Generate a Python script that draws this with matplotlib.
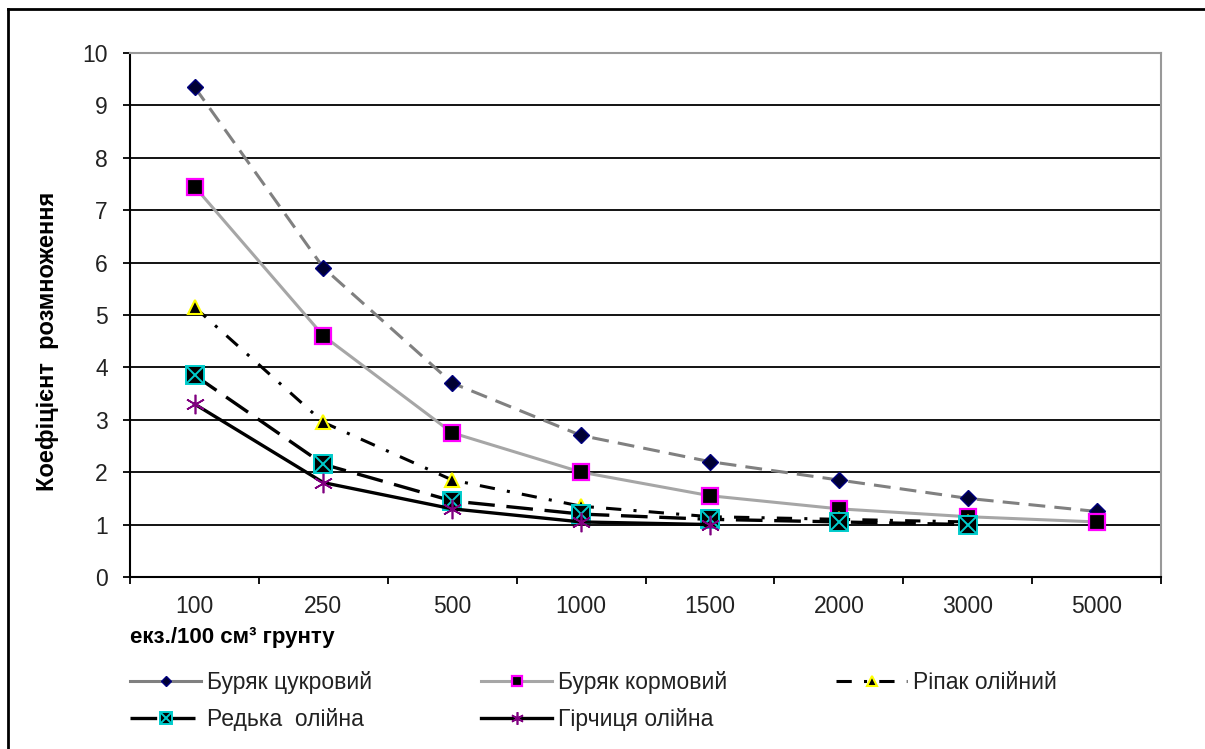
import matplotlib.pyplot as plt
from matplotlib.legend_handler import HandlerTuple
from matplotlib.lines import Line2D

plt.rcParams["font.family"] = ["Liberation Sans", "DejaVu Sans"]

categories = ["100", "250", "500", "1000", "1500", "2000", "3000", "5000"]

sugar_beet = [9.35, 5.9, 3.7, 2.7, 2.2, 1.85, 1.5, 1.25]
fodder_beet = [7.45, 4.6, 2.75, 2.0, 1.55, 1.3, 1.15, 1.05]
rapeseed = [5.15, 2.95, 1.85, 1.35, 1.15, 1.1, 1.05]
oil_radish = [3.85, 2.15, 1.45, 1.2, 1.1, 1.05, 1.0]
mustard = [3.3, 1.8, 1.3, 1.05, 1.0]

series_names = [
    "Буряк цукровий",
    "Буряк кормовий",
    "Ріпак олійний",
    "Редька  олійна",
    "Гірчиця олійна",
]

FS = 16.5
TXT = "#222222"

fig = plt.figure(figsize=(12.05, 7.49), dpi=100)
ax = fig.add_axes([0.108, 0.2297, 0.8555, 0.6996])

x = list(range(len(categories)))

h1, = ax.plot(x[:len(sugar_beet)], sugar_beet, color="#808080", lw=2.2,
              dashes=(5.5, 3), marker="D", ms=8, mfc="#000033", mec="#000080",
              mew=1, zorder=3)
h2, = ax.plot(x[:len(fodder_beet)], fodder_beet, color="#a6a6a6", lw=2.2,
              marker="s", ms=11, mfc="black", mec="#ff00ff", mew=1.6, zorder=4)
h3, = ax.plot(x[:len(rapeseed)], rapeseed, color="black", lw=2.2,
              dashes=(5, 4, 1, 4), marker="^", ms=10, mfc="black",
              mec="#ffff00", mew=1.5, zorder=5)
h4, = ax.plot(x[:len(oil_radish)], oil_radish, color="black", lw=2.4,
              dashes=(8, 3.5), marker="s", ms=13, mfc="black", mec="#00cccc",
              mew=1.4, zorder=6)
h4x, = ax.plot(x[:len(oil_radish)], oil_radish, ls="none", marker="x",
               ms=11, mec="#00cccc", mew=1.4, zorder=7)
h5, = ax.plot(x[:len(mustard)], mustard, color="black", lw=2.4,
              marker=(6, 2, 0), ms=14, mec="#800080", mew=1.2, zorder=8)

ax.set_xlim(-0.5, len(categories) - 0.5)
ax.set_ylim(0, 10)
ax.set_yticks(range(0, 11))
ax.yaxis.grid(True, color="black", lw=1.3)
ax.set_axisbelow(True)

ax.set_xticks([i - 0.5 for i in range(len(categories) + 1)])
ax.set_xticklabels([])
ax.set_xticks(x, minor=True)
ax.set_xticklabels(categories, minor=True)
ax.tick_params(axis="x", which="minor", length=0, pad=13, labelsize=FS,
               labelcolor=TXT)
ax.tick_params(axis="x", which="major", length=5, width=1.3, direction="out")
ax.tick_params(axis="y", length=5, width=1.3, direction="out", pad=11,
               labelsize=FS, labelcolor=TXT)

for side in ["left", "bottom"]:
    ax.spines[side].set_color("black")
    ax.spines[side].set_linewidth(1.5)
for side in ["top", "right"]:
    ax.spines[side].set_color("#999999")
    ax.spines[side].set_linewidth(1.5)

fig.text(48 / 1205, 1 - 341 / 749, "Коефіцієнт  розмноження", fontsize=17,
         fontweight="bold", rotation=90, ha="center", va="center")
fig.text(130 / 1205, 1 - 637 / 749, "екз./100 см³ грунту", fontsize=16,
         fontweight="bold", ha="left", va="center")

# legend line samples: the sugar beet entry shows a solid line in the reference
leg_sugar = Line2D([], [], color="#808080", lw=2.2, marker="D", ms=8,
                   mfc="#000033", mec="#000080", mew=1)

handles = [leg_sugar, (h4, h4x), h2, h5, h3]
labels = [series_names[0], series_names[3], series_names[1],
          series_names[4], series_names[2]]
fig.legend(handles, labels, ncol=3, loc="upper left",
           bbox_to_anchor=(130 / 1205, 1 - 671 / 749), frameon=False,
           fontsize=FS, handlelength=3.1, handletextpad=0.26,
           columnspacing=4.75, labelspacing=0.63, borderpad=0,
           borderaxespad=0, numpoints=1, markerscale=0.65,
           handler_map={tuple: HandlerTuple(ndivide=1)}, labelcolor=TXT)

# chart border (top and left edges visible in the reference)
fig.add_artist(Line2D([0.0066, 0.0066], [0.0, 0.988], transform=fig.transFigure,
                      color="black", lw=2))
fig.add_artist(Line2D([0.0066, 1.0], [0.988, 0.988], transform=fig.transFigure,
                      color="black", lw=2))

fig.savefig("out.png", dpi=100)
